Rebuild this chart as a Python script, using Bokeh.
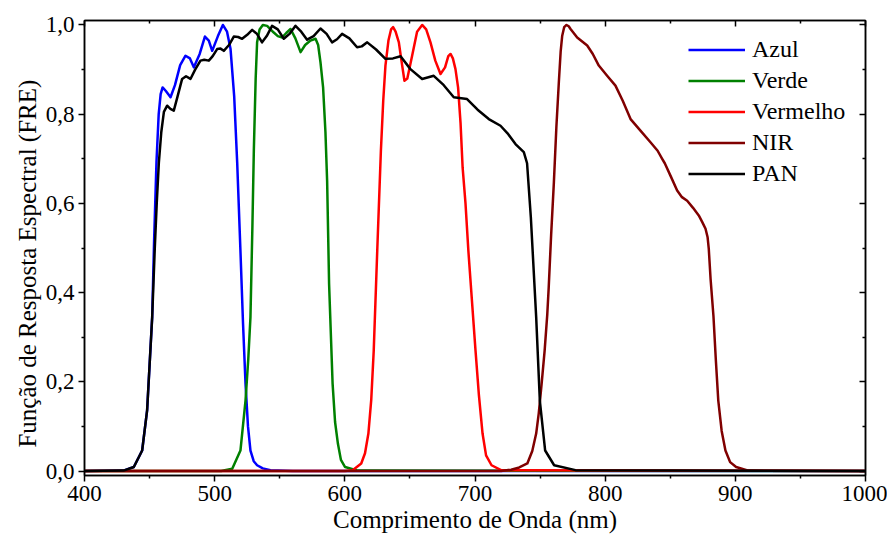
from bokeh.plotting import figure
from bokeh.models import (LinearAxis, FixedTicker, CustomJSTickFormatter, Legend, LegendItem, Range1d)
from bokeh.embed import file_html
from bokeh.resources import INLINE

# ---------------- data ----------------
azul_nm = [400, 430, 437.9, 444.3, 448.1, 452.0, 453.5, 455.3, 457.0, 458.5, 460.0, 462.5, 466.1,
           469.5, 473.5, 477.6, 481.0, 484.0, 488.5, 492.5, 495.5, 498.1, 502.5, 506.3, 509.5,
           512.2, 515.0, 517.3, 519.8, 521.8, 523.7, 525.6, 527.5, 530.0, 532.6, 537.0, 542.9, 560, 1000]
azul_val = [0, 0.001, 0.009, 0.046, 0.136, 0.345, 0.52, 0.693, 0.80, 0.845, 0.860, 0.852, 0.838,
            0.865, 0.91, 0.931, 0.925, 0.905, 0.935, 0.974, 0.965, 0.942, 0.975, 1.0, 0.985,
            0.946, 0.84, 0.692, 0.494, 0.33, 0.196, 0.10, 0.046, 0.022, 0.013, 0.006, 0.002, 0, 0]

verde_nm = [400, 505, 513.5, 519.8, 523.7, 525.8, 527.5, 529.0, 530.1, 531.5, 532.6, 534.5, 537.0,
            540.3, 545.4, 548.5, 551.9, 555.0, 558.3, 562.0, 566.0, 569.5, 573.6, 577.5, 579.5,
            581.3, 583.3, 585.1, 586.4, 587.9, 590.6, 592.5, 594.7, 597.0, 600.2, 610, 1000]
verde_val = [0, 0, 0.005, 0.046, 0.158, 0.25, 0.345, 0.55, 0.72, 0.88, 0.961, 0.99, 1.0,
             0.998, 0.983, 0.975, 0.972, 0.982, 0.991, 0.97, 0.939, 0.955, 0.965, 0.969, 0.955,
             0.916, 0.86, 0.76, 0.65, 0.42, 0.196, 0.11, 0.061, 0.025, 0.009, 0.001, 0]

vermelho_nm = [400, 600, 606, 612.6, 615.5, 618.1, 620.3, 622.2, 624.9, 627.7, 629.5, 631.2, 633.5,
               635.5, 637.1, 639.0, 641.5, 643.5, 645.8, 648.0, 651.7, 655.5, 659.4, 662.5, 665.8,
               669.5, 673.5, 677.0, 679.5, 681.2, 683.0, 685.0, 687.0, 688.9, 690.5, 692.7, 694.9,
               700.4, 703.0, 705.8, 708.5, 712.7, 720, 1000]
vermelho_val = [0, 0, 0.002, 0.017, 0.04, 0.084, 0.16, 0.27, 0.494, 0.718, 0.83, 0.909, 0.965,
                0.99, 0.995, 0.985, 0.961, 0.92, 0.875, 0.88, 0.931, 0.985, 1.0, 0.99, 0.961,
                0.92, 0.89, 0.905, 0.93, 0.935, 0.925, 0.901, 0.86, 0.78, 0.68, 0.60, 0.494,
                0.27, 0.17, 0.084, 0.035, 0.013, 0.002, 0]

nir_nm = [400, 720, 727.8, 734, 740.2, 744, 747.0, 749, 751.2, 753.5, 755.5, 756.6, 758.5, 760.6,
          762.5, 764.4, 765.8, 767.0, 768.5, 770.3, 772, 773.4, 778.5, 786.2, 790.5, 795.1, 801.5,
          807.9, 813.5, 819.5, 827.1, 834.8, 840.3, 843.8, 845.8, 850.5, 855.3, 859, 863.0, 867.5,
          871.9, 874.6, 877.1, 878.7, 879.6, 881, 883.2, 885, 886.9, 889.5, 892.4, 896, 900.6, 910, 1000]
nir_val = [0, 0, 0.003, 0.008, 0.017, 0.045, 0.084, 0.13, 0.196, 0.27, 0.35, 0.41, 0.53, 0.647,
           0.77, 0.871, 0.94, 0.976, 0.995, 1.0, 0.997, 0.991, 0.972, 0.954, 0.935, 0.909, 0.886,
           0.864, 0.83, 0.789, 0.763, 0.737, 0.718, 0.700, 0.69, 0.66, 0.629, 0.614, 0.606, 0.59,
           0.573, 0.558, 0.543, 0.524, 0.498, 0.43, 0.347, 0.25, 0.158, 0.09, 0.046, 0.02, 0.009, 0.001, 0]

pan_nm = [400, 430, 437.9, 444.3, 448.1, 452.0, 454.0, 455.5, 457.1, 459.0, 461.0, 463.5, 466.0,
          468.6, 471.5, 475.0, 478.0, 481.4, 485.0, 489.1, 492.0, 495.5, 498.5, 501.9, 504.5, 507.0,
          511.0, 514.7, 518.0, 521.1, 525.0, 528.8, 532.5, 536.4, 540.0, 544.1, 548.5, 553.1, 557.5,
          562.1, 566.5, 571.0, 576.0, 581.3, 586.0, 590.2, 594.0, 597.9, 603.5, 609.4, 613.0, 617.2,
          624.0, 631.2, 637.0, 642.8, 650.4, 659.4, 668.3, 676.0, 683.7, 693.9, 702.0, 710.6, 719.6,
          725.0, 731.1, 737.5, 740.0, 742.9, 747.0, 749.8, 753.9, 760.8, 777.2, 1000]
pan_val = [0, 0.001, 0.009, 0.046, 0.136, 0.345, 0.50, 0.60, 0.69, 0.76, 0.805, 0.819, 0.812,
           0.808, 0.84, 0.879, 0.885, 0.879, 0.90, 0.920, 0.922, 0.920, 0.93, 0.946, 0.947, 0.942,
           0.955, 0.974, 0.973, 0.969, 0.978, 0.989, 0.98, 0.961, 0.975, 0.998, 0.99, 0.969, 0.98,
           0.998, 0.985, 0.967, 0.975, 0.992, 0.98, 0.961, 0.968, 0.980, 0.97, 0.950, 0.952, 0.961,
           0.945, 0.924, 0.925, 0.930, 0.901, 0.879, 0.886, 0.865, 0.838, 0.834, 0.81, 0.789, 0.774,
           0.757, 0.733, 0.715, 0.69, 0.569, 0.345, 0.158, 0.046, 0.013, 0.002, 0]

series_names = ["Azul", "Verde", "Vermelho", "NIR", "PAN"]
series_colors = ["#0000FF", "#008000", "#FF0000", "#800000", "#000000"]

x_major = [400, 500, 600, 700, 800, 900, 1000]
x_minor = [450, 550, 650, 750, 850, 950]
y_major = [0.0, 0.2, 0.4, 0.6, 0.8, 1.0]
y_minor = [0.1, 0.3, 0.5, 0.7, 0.9]

x_title = "Comprimento de Onda (nm)"
y_title = "Função de Resposta Espectral (FRE)"

FONT = "Liberation Serif"

p = figure(width=887, height=541, output_backend="svg", toolbar_location=None,
           x_range=Range1d(400, 1000), y_range=Range1d(-0.01, 1.01),
           min_border_left=84, min_border_right=22, min_border_top=20, min_border_bottom=66,
           x_axis_label=x_title,
           y_axis_label=y_title + "\u00a0" * 5)
p.grid.visible = False
p.outline_line_color = "black"
p.outline_line_width = 1.5
p.background_fill_color = "white"
p.border_fill_color = "white"

xt = FixedTicker(ticks=x_major, minor_ticks=x_minor)
yt = FixedTicker(ticks=y_major, minor_ticks=y_minor)
yfmt = CustomJSTickFormatter(code="return tick.toFixed(1).replace('.', ',');")
blank = CustomJSTickFormatter(code="return '';")

def style_axis(ax, inward=False):
    ax.axis_line_width = 1.5
    ax.axis_line_color = "black"
    ax.major_tick_line_width = 1.5
    ax.minor_tick_line_width = 1.5
    if inward:
        ax.major_tick_in, ax.major_tick_out = 6, 0
        ax.minor_tick_in, ax.minor_tick_out = 3, 0
        ax.formatter = blank
        ax.major_label_text_color = None
        ax.major_label_standoff = 0
    else:
        ax.major_tick_in, ax.major_tick_out = 0, 6
        ax.minor_tick_in, ax.minor_tick_out = 0, 3
        ax.major_label_text_font = FONT
        ax.major_label_text_font_size = "23px"
        ax.major_label_text_color = "black"
        ax.major_label_standoff = 4
        ax.axis_label_text_font = FONT
        ax.axis_label_text_font_size = "25px"
        ax.axis_label_text_font_style = "normal"
        ax.axis_label_text_color = "black"
        ax.axis_label_standoff = 2

p.xaxis.ticker = xt
p.yaxis.ticker = yt
p.yaxis.formatter = yfmt
style_axis(p.xaxis[0])
style_axis(p.yaxis[0])

top_ax = LinearAxis(ticker=FixedTicker(ticks=x_major, minor_ticks=x_minor))
right_ax = LinearAxis(ticker=FixedTicker(ticks=y_major, minor_ticks=y_minor))
style_axis(top_ax, inward=True)
style_axis(right_ax, inward=True)
p.add_layout(top_ax, "above")
p.add_layout(right_ax, "right")

data = [(azul_nm, azul_val), (verde_nm, verde_val), (vermelho_nm, vermelho_val),
        (nir_nm, nir_val), (pan_nm, pan_val)]
items = []
for (xs, ys), name, col in zip(data, series_names, series_colors):
    r = p.line(xs, ys, line_color=col, line_width=2.5, line_join="round")
    items.append(LegendItem(label=name, renderers=[r]))

legend = Legend(items=items, location=(604, 286))
legend.border_line_color = None
legend.background_fill_alpha = 0
legend.label_text_font = FONT
legend.label_text_font_size = "24px"
legend.label_text_color = "black"
legend.glyph_width = 57
legend.glyph_height = 31
legend.label_height = 31
legend.label_standoff = 7
legend.spacing = 0
legend.padding = 0
legend.margin = 0
p.add_layout(legend, "center")

open("out.html", "w").write(file_html(p, INLINE))
